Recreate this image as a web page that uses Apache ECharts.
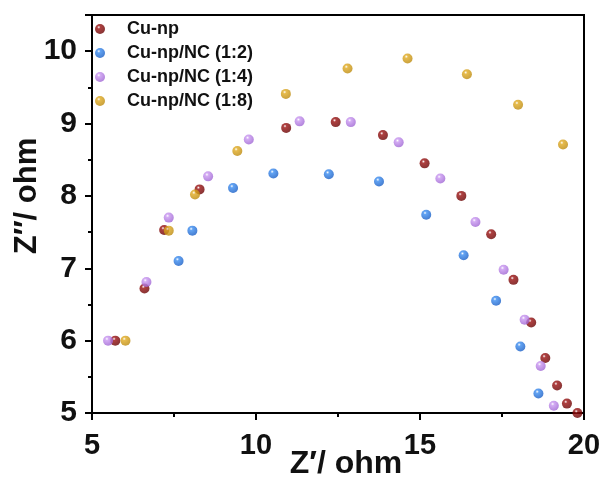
<!DOCTYPE html>
<html><head><meta charset="utf-8">
<script src="https://cdn.jsdelivr.net/npm/echarts@6/dist/echarts.min.js"></script>
<style>html,body{margin:0;padding:0;background:#fff}#c{width:605px;height:484px}</style>
</head><body><div id="c"></div>
<script>
const seriesNames = ['Cu-np', 'Cu-np/NC (1:2)', 'Cu-np/NC (1:4)', 'Cu-np/NC (1:8)'];
const cuNpX = [5.71, 6.60, 7.20, 8.28, 10.92, 12.43, 13.87, 15.14, 16.26, 17.17, 17.85, 18.39, 18.82, 19.18, 19.48, 19.80];
const cuNpY = [6.00, 6.72, 7.53, 8.09, 8.94, 9.02, 8.84, 8.45, 8.00, 7.47, 6.84, 6.25, 5.76, 5.38, 5.13, 5.00];
const nc12X = [7.64, 8.06, 9.30, 10.53, 12.22, 13.75, 15.19, 16.33, 17.32, 18.06, 18.61];
const nc12Y = [7.10, 7.52, 8.11, 8.31, 8.30, 8.20, 7.74, 7.18, 6.55, 5.92, 5.27];
const nc14X = [5.49, 6.66, 7.34, 8.54, 9.78, 11.33, 12.89, 14.35, 15.62, 16.69, 17.55, 18.19, 18.68, 19.08];
const nc14Y = [6.00, 6.81, 7.70, 8.27, 8.78, 9.03, 9.02, 8.74, 8.24, 7.64, 6.98, 6.29, 5.65, 5.10];
const nc18X = [6.02, 7.34, 8.14, 9.43, 10.91, 12.79, 14.62, 16.43, 17.99, 19.36];
const nc18Y = [6.00, 7.52, 8.02, 8.62, 9.41, 9.76, 9.90, 9.68, 9.26, 8.71];
const xTicks = [5, 10, 15, 20];
const yTicks = [5, 6, 7, 8, 9, 10];

const baseColors = [['#9a1010', '#640000'], ['#3a8cf0', '#1458c0'], ['#c896f0', '#9a5fd0'], ['#e0aa20', '#b8860b']];
function sphere(c) {
  return {type: 'radial', x: 0.38, y: 0.32, r: 0.75,
    colorStops: [{offset: 0, color: '#ffffff'}, {offset: 0.22, color: c[0]}, {offset: 1, color: c[1]}]};
}
function zip(xs, ys) { return xs.map((x, i) => [x, ys[i]]); }
const allX = [cuNpX, nc12X, nc14X, nc18X];
const allY = [cuNpY, nc12Y, nc14Y, nc18Y];

const chart = echarts.init(document.getElementById('c'));
const font = 'Liberation Sans, Arial, sans-serif';
chart.setOption({
  animation: false,
  grid: {left: 92, right: 21, top: 15, bottom: 71, containLabel: false, outerBoundsMode: 'none',
    show: true, borderColor: '#000', borderWidth: 2, backgroundColor: 'transparent'},
  legend: {
    orient: 'vertical', left: 90, top: 15, itemWidth: 10, itemHeight: 10, itemGap: 6,
    icon: 'circle',
    textStyle: {fontFamily: font, fontWeight: 'bold', fontSize: 18, color: '#111', padding: [0, 0, 0, 17]},
    data: seriesNames
  },
  xAxis: {
    type: 'value', min: 5, max: 20, interval: 5,
    name: 'Z′/ ohm', nameLocation: 'middle', nameGap: 35, nameMoveOverlap: false,
    nameTextStyle: {fontFamily: font, fontWeight: 'bold', fontSize: 32, color: '#111', padding: [0, 0, 0, 16]},
    axisLine: {lineStyle: {color: '#000', width: 2}},
    axisTick: {show: true, inside: false, length: 7, lineStyle: {color: '#000', width: 2}},
    minorTick: {show: true, splitNumber: 2, length: 4, lineStyle: {color: '#000', width: 2}},
    axisLabel: {fontFamily: font, fontWeight: 'bold', fontSize: 29, color: '#111', margin: 18,
      formatter: v => xTicks.includes(v) ? String(v) : ''},
    splitLine: {show: false}
  },
  yAxis: {
    type: 'value', min: 5, max: 10.5, interval: 1,
    name: 'Z′′/ ohm', nameLocation: 'middle', nameGap: 49, nameRotate: 90, nameMoveOverlap: false,
    nameTextStyle: {fontFamily: font, fontWeight: 'bold', fontSize: 31, color: '#111', padding: [0, 0, 0, 36]},
    axisLine: {lineStyle: {color: '#000', width: 2}},
    axisTick: {show: true, inside: false, length: 7, lineStyle: {color: '#000', width: 2}},
    minorTick: {show: true, splitNumber: 2, length: 4, lineStyle: {color: '#000', width: 2}},
    axisLabel: {fontFamily: font, fontWeight: 'bold', fontSize: 30, color: '#111', margin: 15,
      formatter: v => yTicks.includes(v) ? String(v) : '', showMaxLabel: false},
    splitLine: {show: false}
  },
  series: seriesNames.map((n, i) => ({
    name: n, type: 'scatter', symbol: 'circle', symbolSize: 10,
    itemStyle: {color: sphere(baseColors[i])},
    data: zip(allX[i], allY[i])
  }))
});
</script></body></html>
